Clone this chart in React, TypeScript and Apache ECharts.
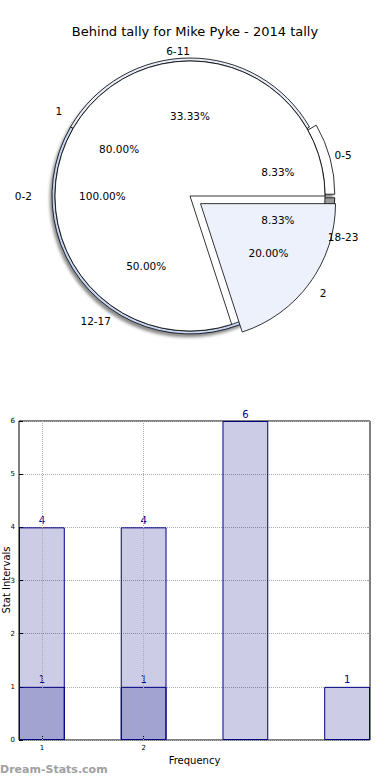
import React, { useEffect, useRef } from "react";
import * as echarts from "echarts";

// ---------- data ----------
const TITLE = "Behind tally for Mike Pyke - 2014 tally";
const Y_NAME = "Stat Intervals";
const X_NAME = "Frequency";
const WATERMARK = "Dream-Stats.com";

const hourNames = ["0-5", "6-11", "12-17", "18-23"];
const hourValues = [1, 4, 6, 1];
const hourExploded = [true, false, false, true];

const rangeNames = ["0-2"];
const rangeValues = [1];
const rangeExploded = [false];

const behindNames = ["1", "2"];
const behindValues = [4, 1];
const behindExploded = [false, true];

const barX = [1, 2, 3, 4];
const barTotals = [4, 4, 6, 1];
const barOverlayX = [1, 2];
const barOverlayValues = [1, 1];
const xTickValues = [1, 2];
const X_MIN = 0.775;
const X_MAX = 4.225;
const Y_MIN = 0;
const Y_MAX = 6;
const Y_STEP = 1;

// ---------- style ----------
const FONT = "DejaVu Sans";
const FS = 10.5;
const CX = 190;
const CY = 196;
const R = 135;
// the reference pie is slightly elliptical: label positions are corrected toward it
const RX = 141;
const RY = 129;
const hourColors = ["#ffffff", "#e6edf9", "#c6d6f3", "#9a9a9a"];
const rangeColors = ["#ffffff"];
const behindColors = ["#ffffff", "#ecf1fc"];

function measure(text: string): number {
  const c = document.createElement("canvas").getContext("2d");
  if (!c) return text.length * 6.5;
  c.font = `${FS}px "${FONT}"`;
  return c.measureText(text).width;
}

function midAngles(values: number[]): number[] {
  const total = values.reduce((a, b) => a + b, 0);
  let acc = 0;
  return values.map((v) => {
    const a = ((acc + v / 2) / total) * 360;
    acc += v;
    return a;
  });
}

function visiblePie(
  names: string[],
  values: number[],
  colors: string[],
  exploded: boolean[],
  offset: number,
  radius: number,
  z: number,
  extraItem: any = {}
) {
  return {
    type: "pie",
    center: [CX, CY],
    radius: [0, radius],
    startAngle: 0,
    clockwise: false,
    silent: true,
    selectedMode: "multiple",
    selectedOffset: offset,
    avoidLabelOverlap: false,
    z,
    label: { show: false },
    labelLine: { show: false },
    itemStyle: { borderColor: "#000", borderWidth: 0.8, ...extraItem },
    data: names.map((n, i) => ({
      name: n,
      value: values[i],
      selected: exploded[i],
      itemStyle: { color: colors[i] },
    })),
  };
}

function labelPie(
  names: string[],
  values: number[],
  exploded: boolean[],
  offset: number,
  kind: "pct" | "name"
) {
  const mids = midAngles(values);
  const total = values.reduce((a, b) => a + b, 0);
  const factor = kind === "pct" ? 0.6 : 1.1;
  const radius = kind === "pct" ? [0, R * 1.2] : [R, R * 1.2];
  return {
    type: "pie",
    center: [CX, CY],
    radius,
    startAngle: 0,
    clockwise: false,
    silent: true,
    selectedMode: "multiple",
    selectedOffset: offset,
    avoidLabelOverlap: false,
    z: 10,
    itemStyle: { color: "rgba(0,0,0,0)", borderWidth: 0 },
    labelLine: { show: false },
    label: {
      show: true,
      position: "inside",
      color: "#000",
      fontSize: FS,
      fontFamily: FONT,
      textBorderWidth: 0,
      formatter:
        kind === "pct"
          ? (p: any) => ((p.value / total) * 100).toFixed(2) + "%"
          : (p: any) => p.name,
    },
    data: names.map((n, i) => {
      const a = (mids[i] * Math.PI) / 180;
      const c = Math.cos(a);
      const s = Math.sin(a);
      let ox = factor * (RX - R) * c;
      const oy = -factor * (RY - R) * s;
      if (kind === "name") {
        const w = measure(n);
        ox += c > 0.01 ? w / 2 : -w / 2;
      }
      return {
        name: n,
        value: values[i],
        selected: exploded[i],
        label: { offset: [ox, oy] },
      };
    }),
  };
}

const barStyle = {
  color: "rgba(0,0,128,0.2)",
  borderColor: "#000080",
  borderWidth: 1,
};
const barLabel = {
  show: true,
  position: "top",
  color: "#00008b",
  fontSize: 10,
  distance: 2,
  formatter: (p: any) => String(p.value[1]),
};

export default function App() {
  const ref = useRef<HTMLDivElement>(null);

  useEffect(() => {
    document.body.style.margin = "0";
    if (!ref.current) return;
    const chart = echarts.init(ref.current, undefined, { renderer: "svg" });

    const option: any = {
      animation: false,
      backgroundColor: "#fff",
      textStyle: { fontFamily: FONT },
      title: {
        text: TITLE,
        left: "center",
        top: 20,
        textStyle: { fontSize: 13, fontWeight: "normal", color: "#000", fontFamily: FONT },
      },
      graphic: [
        {
          type: "text",
          left: 0,
          top: 764,
          style: {
            text: WATERMARK,
            fill: "#a0a0a0",
            font: `bold 11px "${FONT}"`,
          },
        },
        {
          type: "text",
          x: 6,
          y: 580,
          rotation: Math.PI / 2,
          style: {
            text: Y_NAME,
            fill: "#000",
            font: `10px "${FONT}"`,
            textAlign: "center",
            textVerticalAlign: "middle",
          },
        },
      ],
      grid: {
        left: 19,
        right: 20,
        top: 421,
        bottom: 40,
        containLabel: false,
        outerBoundsMode: "none",
        show: true,
        borderColor: "#000",
        borderWidth: 1,
        backgroundColor: "transparent",
      },
      xAxis: [
        {
          type: "value",
          min: X_MIN,
          max: X_MAX,
          axisLine: { show: false },
          axisTick: {
            show: true,
            inside: true,
            length: 4,
            customValues: xTickValues,
            lineStyle: { color: "#000" },
          },
          axisLabel: { customValues: xTickValues, fontSize: 7, color: "#000", margin: 4 },
          splitLine: { show: false },
          name: X_NAME,
          nameLocation: "middle",
          nameGap: 15,
          nameTextStyle: { fontSize: 10, color: "#000" },
        },
      ],
      yAxis: [
        {
          type: "value",
          min: Y_MIN,
          max: Y_MAX,
          interval: Y_STEP,
          axisLine: { show: false },
          axisTick: { show: true, inside: true, length: 4, lineStyle: { color: "#000" } },
          axisLabel: { fontSize: 7, color: "#000", margin: 4 },
          splitLine: { show: true, lineStyle: { type: "dotted", color: "#aaa", width: 1 } },
        },
        {
          type: "value",
          position: "right",
          min: Y_MIN,
          max: Y_MAX,
          interval: Y_STEP,
          axisLine: { show: false },
          axisTick: { show: true, inside: true, length: 3, lineStyle: { color: "#999" } },
          axisLabel: { show: false },
          splitLine: { show: false },
        },
      ],
      series: [
        visiblePie(hourNames, hourValues, hourColors, hourExploded, 7, R + 3, 1, {
          shadowBlur: 3,
          shadowColor: "rgba(0,0,0,0.45)",
          shadowOffsetX: -2,
          shadowOffsetY: 3,
        }),
        visiblePie(rangeNames, rangeValues, rangeColors, rangeExploded, 0, R, 2),
        visiblePie(behindNames, behindValues, behindColors, behindExploded, 13, R, 3),
        labelPie(hourNames, hourValues, hourExploded, 7, "pct"),
        labelPie(hourNames, hourValues, hourExploded, 7, "name"),
        labelPie(rangeNames, rangeValues, rangeExploded, 0, "pct"),
        labelPie(rangeNames, rangeValues, rangeExploded, 0, "name"),
        labelPie(behindNames, behindValues, behindExploded, 13, "pct"),
        labelPie(behindNames, behindValues, behindExploded, 13, "name"),
        {
          type: "bar",
          xAxisIndex: 0,
          yAxisIndex: 0,
          data: barX.map((x, i) => [x, barTotals[i]]),
          barWidth: "45%",
          barGap: "-100%",
          itemStyle: barStyle,
          label: barLabel,
          markLine: {
            silent: true,
            symbol: "none",
            animation: false,
            label: { show: false },
            lineStyle: { type: "dotted", color: "#aaa", width: 1 },
            data: xTickValues.map((v) => ({ xAxis: v })),
          },
        },
        {
          type: "bar",
          xAxisIndex: 0,
          yAxisIndex: 0,
          data: barOverlayX.map((x, i) => [x, barOverlayValues[i]]),
          barWidth: "45%",
          barGap: "-100%",
          itemStyle: barStyle,
          label: barLabel,
        },
      ],
    };

    chart.setOption(option);
    return () => chart.dispose();
  }, []);

  return <div ref={ref} style={{ width: 390, height: 780 }} />;
}
